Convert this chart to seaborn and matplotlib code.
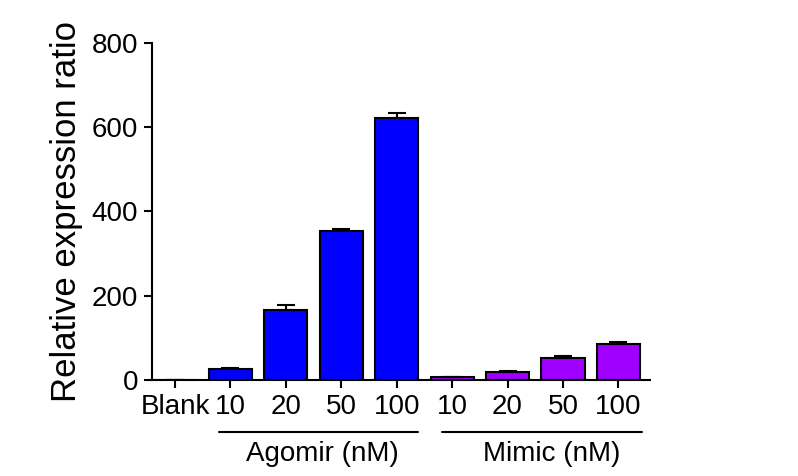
import pandas as pd
import matplotlib.pyplot as plt
import matplotlib.transforms as mtransforms
import seaborn as sns

# Values
keys = ['Blank', 'Agomir 10', 'Agomir 20', 'Agomir 50', 'Agomir 100',
        'Mimic 10', 'Mimic 20', 'Mimic 50', 'Mimic 100']
tick_labels = ['Blank', '10', '20', '50', '100', '10', '20', '50', '100']
groups = ['Blank', 'Agomir', 'Agomir', 'Agomir', 'Agomir',
          'Mimic', 'Mimic', 'Mimic', 'Mimic']
means = [0, 26, 166, 354, 622, 7, 20, 53, 86]
sems = [0, 2, 13, 4, 11, 1, 1, 3, 4]

df = pd.DataFrame({'key': keys, 'group': groups, 'mean': means, 'sem': sems})
palette = {'Blank': '#0000FF', 'Agomir': '#0000FF', 'Mimic': '#A000FF'}

sns.set_style('ticks')
plt.rcParams['font.family'] = ['Liberation Sans', 'DejaVu Sans']
plt.rcParams['text.color'] = 'black'
plt.rcParams['xtick.color'] = 'black'
plt.rcParams['ytick.color'] = 'black'
plt.rcParams['axes.labelcolor'] = 'black'
plt.rcParams['axes.edgecolor'] = 'black'

fig = plt.figure(figsize=(7.98, 4.76), dpi=100)
ax = fig.add_axes([0.1905, 0.2017, 0.624, 0.708])

sns.barplot(data=df, x='key', y='mean', hue='group', order=keys, palette=palette,
            dodge=False, width=0.78, saturation=1, edgecolor='black', linewidth=1.5,
            legend=False, ax=ax)

# Upper error bars only, like the original
ax.errorbar(range(len(keys)), means, yerr=[[0] * len(keys), sems], fmt='none',
            ecolor='black', elinewidth=1.5, capsize=6.5, capthick=1.5, zorder=3)

ax.set_xlim(-0.415, 8.57)
ax.set_ylim(0, 800)
ax.set_yticks([0, 200, 400, 600, 800])
ax.set_xticks(range(len(keys)))
ax.set_xticklabels(tick_labels)
ax.tick_params(axis='both', labelsize=20, length=6, width=1.5, direction='out', pad=4)
ax.set_xlabel('')
ax.set_ylabel('Relative expression ratio', fontsize=25, labelpad=6)
for side in ['top', 'right']:
    ax.spines[side].set_visible(False)
for side in ['left', 'bottom']:
    ax.spines[side].set_linewidth(1.5)

# Group underlines and labels below the ticks
trans = mtransforms.blended_transform_factory(ax.transData, ax.transAxes)
ax.plot([0.79, 4.39], [-0.154, -0.154], transform=trans, color='black',
        linewidth=1.5, clip_on=False)
ax.plot([4.82, 8.43], [-0.154, -0.154], transform=trans, color='black',
        linewidth=1.5, clip_on=False)
ax.text(2.65, -0.22, 'Agomir (nM)', transform=trans, ha='center', va='center', fontsize=20)
ax.text(6.8, -0.22, 'Mimic (nM)', transform=trans, ha='center', va='center', fontsize=20)

plt.savefig('out.png', dpi=100)
